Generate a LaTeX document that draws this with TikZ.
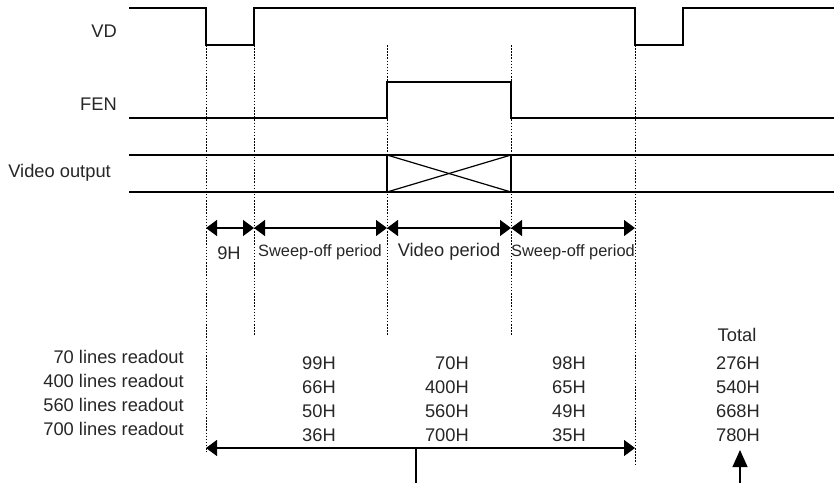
\documentclass[tikz,border=0pt]{standalone}
\usepackage{fontspec}
\setmainfont{Liberation Sans}
\usetikzlibrary{arrows.meta}
\begin{document}
\begin{tikzpicture}[x=1pt,y=-1pt,
  sig/.style={line width=1.2pt, line join=miter, line cap=rect},
  guide/.style={line width=1pt, dash pattern=on 1.5pt off 1.6pt},
  dim/.style={line width=1.2pt, {Triangle[length=11pt,width=16pt]}-{Triangle[length=11pt,width=16pt]}},
  up/.style={line width=1.2pt, -{Triangle[length=17pt,width=15pt]}},
  lbl/.style={font=\fontsize{18.3}{22}\selectfont, text=black!85, inner sep=0pt},
  plbl/.style={font=\fontsize{16.4}{20}\selectfont, text=black!85, inner sep=0pt},
]
\useasboundingbox (0,0) rectangle (834,483);

% signal labels
\node[lbl, anchor=east] (vd) at (117,31) {VD};
\node[lbl, anchor=east] (fen) at (117,104) {FEN};
\node[lbl, anchor=east] (vo) at (111,173) {Video output};

% VD
\draw[sig] (130,8) -- (206,8) -- (206,45) -- (254,45) -- (254,8) -- (635,8) -- (635,45) -- (683,45) -- (683,8) -- (834,8);
% FEN
\draw[sig] (130,118) -- (387,118) -- (387,82) -- (511,82) -- (511,118) -- (834,118);
% Video output
\draw[sig] (130,155) -- (834,155);
\draw[sig] (130,192) -- (834,192);
\draw[sig] (387,155) -- (387,192);
\draw[sig] (511,155) -- (511,192);
\draw[sig] (387,155) -- (511,192);
\draw[sig] (387,192) -- (511,155);

% guide lines
\draw[guide] (206,45) -- (206,452);
\draw[guide] (254,45) -- (254,336);
\draw[guide] (387,45) -- (387,336);
\draw[guide] (511,45) -- (511,336);
\draw[guide] (635,45) -- (635,464);

% period dimension arrows
\coordinate (a0) at (206,228);
\coordinate (a1) at (254,228);
\coordinate (a2) at (387,228);
\coordinate (a3) at (511,228);
\coordinate (a4) at (635,228);
\draw[dim] (a0) -- (a1);
\draw[dim] (a1) -- (a2);
\draw[dim] (a2) -- (a3);
\draw[dim] (a3) -- (a4);

\node[lbl] (p9) at (229,253) {9H};
\node[plbl] (sw1) at (320,252) {Sweep-off period};
\node[lbl] (vp) at (449,252) {Video period};
\node[plbl] (sw2) at (573,252) {Sweep-off period};

% readout rows
\node[lbl, anchor=east] (r1) at (184,357) {70 lines readout};
\node[lbl, anchor=east] (r2) at (184,381) {400 lines readout};
\node[lbl, anchor=east] (r3) at (184,405) {560 lines readout};
\node[lbl, anchor=east] (r4) at (184,429) {700 lines readout};

\node[lbl] (c11) at (319,363) {99H};
\node[lbl] (c12) at (319,387) {66H};
\node[lbl] (c13) at (319,411) {50H};
\node[lbl] (c14) at (319,435) {36H};

\node[lbl, anchor=east] (c21) at (469,363) {70H};
\node[lbl, anchor=east] (c22) at (469,387) {400H};
\node[lbl, anchor=east] (c23) at (469,411) {560H};
\node[lbl, anchor=east] (c24) at (469,435) {700H};

\node[lbl] (c31) at (569,363) {98H};
\node[lbl] (c32) at (569,387) {65H};
\node[lbl] (c33) at (569,411) {49H};
\node[lbl] (c34) at (569,435) {35H};

\node[lbl] (tot) at (737,335) {Total};
\node[lbl] (t1) at (738,363) {276H};
\node[lbl] (t2) at (738,387) {540H};
\node[lbl] (t3) at (738,411) {668H};
\node[lbl] (t4) at (738,435) {780H};

% bottom total span
\coordinate (b0) at (206,448);
\coordinate (b1) at (635,448);
\draw[dim] (b0) -- (b1);
\coordinate (bm) at (416,448);
\coordinate (bmend) at (416,483);
\draw[line width=1.2pt] (bm) -- (bmend);
\coordinate (ts) at (740,483);
\coordinate (te) at (740,450);
\draw[up] (ts) -- (te);
\end{tikzpicture}
\end{document}
